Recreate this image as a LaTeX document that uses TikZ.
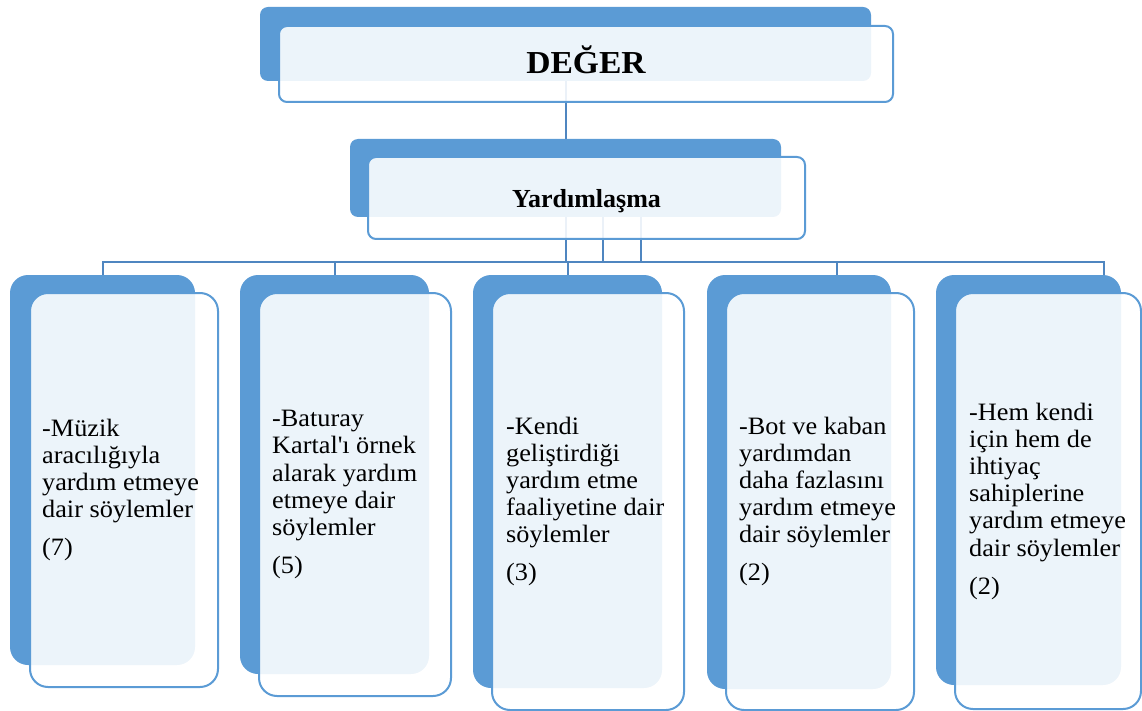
\documentclass[tikz,border=0pt]{standalone}
\usepackage{fontspec}
\setmainfont{Liberation Serif}
\newfontfamily\leaffont[FakeStretch=1.05]{Liberation Serif}
\newfontfamily\headfont[FakeStretch=1.05]{Liberation Serif}
\definecolor{boxblue}{HTML}{5B9BD5}
\definecolor{edgeblue}{HTML}{5B9BD5}
\definecolor{linkblue}{HTML}{4F86C0}
\pgfdeclarelayer{links}
\pgfsetlayers{links,main}
\begin{document}
\begin{tikzpicture}[x=1pt,y=-1pt,
  backbox/.style={rectangle, fill=boxblue, draw=none, inner sep=0pt},
  frontbox/.style={rectangle, fill=white, fill opacity=0.89, draw=edgeblue,
    draw opacity=1, line width=2pt, inner sep=0pt},
  headcorner/.style={rounded corners=8pt},
  leafcorner/.style={rounded corners=18pt},
  link/.style={draw=linkblue, line width=2pt},
  leaftext/.style={anchor=west, inner sep=0pt, align=left,
    font=\leaffont\fontsize{25}{27.2}\selectfont}]
\useasboundingbox (0,0) rectangle (1142,711);

% root
\node[backbox, headcorner, minimum width=611pt, minimum height=74pt] (b0) at (565.5,44) {};
\node[frontbox, headcorner, minimum width=614pt, minimum height=76pt] (f0) at (586,64) {};
\node[anchor=base, inner sep=0pt, font=\headfont\bfseries\fontsize{32}{36}\selectfont]
  (t0) at ([yshift=-10pt]f0.center) {DEĞER};

% second level
\node[backbox, headcorner, minimum width=431pt, minimum height=78pt] (bm) at (565.5,178) {};
\node[frontbox, headcorner, minimum width=437pt, minimum height=82pt] (fm) at (586.5,198) {};
\node[anchor=base, inner sep=0pt, font=\bfseries\fontsize{26}{30}\selectfont]
  (tm) at ([yshift=-9.3pt]fm.center) {Yardımlaşma};

% leaves
\node[backbox, leafcorner, minimum width=185pt, minimum height=390pt] (b1) at (102.5,470) {};
\node[frontbox, leafcorner, minimum width=188pt, minimum height=394pt] (f1) at (124,490) {};
\node[leaftext] (t1) at ([xshift=13pt]f1.west)
  {-Müzik\\aracılığıyla\\yardım etmeye\\dair söylemler\\[10.8pt](7)};

\node[backbox, leafcorner, minimum width=189pt, minimum height=399pt] (b2) at (334.5,474.5) {};
\node[frontbox, leafcorner, minimum width=192pt, minimum height=403pt] (f2) at (355,494.5) {};
\node[leaftext] (t2) at ([xshift=14pt]f2.west)
  {-Baturay\\Kartal\textquotesingle ı örnek\\alarak yardım\\etmeye dair\\söylemler\\[10.8pt](5)};

\node[backbox, leafcorner, minimum width=189pt, minimum height=413pt] (b3) at (567.5,481.5) {};
\node[frontbox, leafcorner, minimum width=192pt, minimum height=417pt] (f3) at (588,501.5) {};
\node[leaftext] (t3) at ([xshift=15pt]f3.west)
  {-Kendi\\geliştirdiği\\yardım etme\\faaliyetine dair\\söylemler\\[10.8pt](3)};

\node[backbox, leafcorner, minimum width=184pt, minimum height=414pt] (b4) at (799,482) {};
\node[frontbox, leafcorner, minimum width=188pt, minimum height=417pt] (f4) at (820,501.5) {};
\node[leaftext] (t4) at ([xshift=14pt]f4.west)
  {-Bot ve kaban\\yardımdan\\daha fazlasını\\yardım etmeye\\dair söylemler\\[10.8pt](2)};

\node[backbox, leafcorner, minimum width=185pt, minimum height=410pt] (b5) at (1028.5,480) {};
\node[frontbox, leafcorner, minimum width=186pt, minimum height=416pt] (f5) at (1048,501) {};
\node[leaftext] (t5) at ([xshift=15pt]f5.west)
  {-Hem kendi\\için hem de\\ihtiyaç\\sahiplerine\\yardım etmeye\\dair söylemler\\[10.8pt](2)};

% connectors, kept beneath the boxes
\begin{pgfonlayer}{links}
  \draw[link] (b0.south) -- (bm.north);
  \coordinate (bus) at ([yshift=-45pt]bm.south);
  \draw[link] (bm.south) -- (bus);
  \draw[link] ([xshift=37.5pt]bm.south) -- ([xshift=37.5pt]bus);
  \draw[link] ([xshift=75.5pt]bm.south) -- ([xshift=75.5pt]bus);
  \draw[link] (bus) -| (b1.north);
  \draw[link] (bus) -| (b2.north);
  \draw[link] (bus) -| (b3.north);
  \draw[link] (bus) -| ([xshift=37.5pt]b4.north);
  \draw[link] (bus) -| ([xshift=75.5pt]b5.north);
\end{pgfonlayer}
\end{tikzpicture}
\end{document}
